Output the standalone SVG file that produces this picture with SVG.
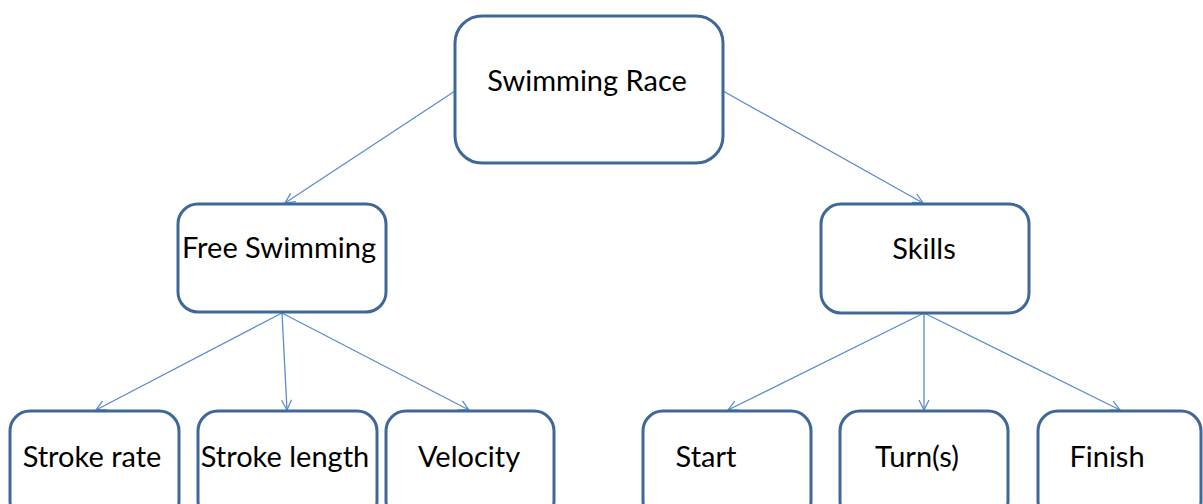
<svg xmlns="http://www.w3.org/2000/svg" width="1203" height="504" viewBox="0 0 1203 504">
  <style>
    .box { fill: #ffffff; stroke: #3f6899; stroke-width: 3; }
    .lbl { font-family: Lato, "Liberation Sans", sans-serif; font-size: 29px; fill: #000000; text-anchor: middle; }
    .edge { stroke: #5b8ccf; stroke-width: 1.3; fill: none; marker-end: url(#open); }
  </style>
  <defs>
    <marker id="open" viewBox="0 0 12 12" refX="11" refY="6" markerWidth="12" markerHeight="12" markerUnits="userSpaceOnUse" orient="auto">
      <path d="M1,1 L11,6 L1,11" fill="none" stroke="#5b8ccf" stroke-width="1.3"/>
    </marker>
  </defs>
  <rect width="1203" height="504" fill="#ffffff"/>

  <g id="connectors">
    <line class="edge" x1="455" y1="91" x2="285" y2="203"/>
    <line class="edge" x1="723" y1="91" x2="923" y2="203"/>
    <line class="edge" x1="282" y1="313" x2="96" y2="410"/>
    <line class="edge" x1="282" y1="313" x2="287" y2="410"/>
    <line class="edge" x1="282" y1="313" x2="469" y2="410"/>
    <line class="edge" x1="924" y1="313" x2="728" y2="410"/>
    <line class="edge" x1="924" y1="313" x2="924" y2="410"/>
    <line class="edge" x1="924" y1="313" x2="1120" y2="410"/>
  </g>

  <g id="swimming-race">
    <rect class="box" x="455" y="16" width="268" height="147" rx="27"/>
    <text class="lbl" x="587" y="91">Swimming Race</text>
  </g>
  <g id="free-swimming">
    <rect class="box" x="178" y="204" width="208" height="108" rx="20"/>
    <text class="lbl" x="279" y="258">Free Swimming</text>
  </g>
  <g id="skills">
    <rect class="box" x="821" y="204" width="208" height="109" rx="20"/>
    <text class="lbl" x="924" y="259">Skills</text>
  </g>
  <g id="stroke-rate">
    <rect class="box" x="10" y="411" width="169" height="110" rx="20"/>
    <text class="lbl" x="92" y="467">Stroke rate</text>
  </g>
  <g id="stroke-length">
    <rect class="box" x="198" y="411" width="179" height="110" rx="20"/>
    <text class="lbl" x="285" y="467">Stroke length</text>
  </g>
  <g id="velocity">
    <rect class="box" x="386" y="411" width="168" height="110" rx="20"/>
    <text class="lbl" x="469" y="467">Velocity</text>
  </g>
  <g id="start">
    <rect class="box" x="643" y="411" width="168" height="110" rx="20"/>
    <text class="lbl" x="706" y="467">Start</text>
  </g>
  <g id="turns">
    <rect class="box" x="840" y="411" width="168" height="110" rx="20"/>
    <text class="lbl" x="917" y="467">Turn(s)</text>
  </g>
  <g id="finish">
    <rect class="box" x="1038" y="411" width="163" height="110" rx="20"/>
    <text class="lbl" x="1107" y="467">Finish</text>
  </g>
</svg>
